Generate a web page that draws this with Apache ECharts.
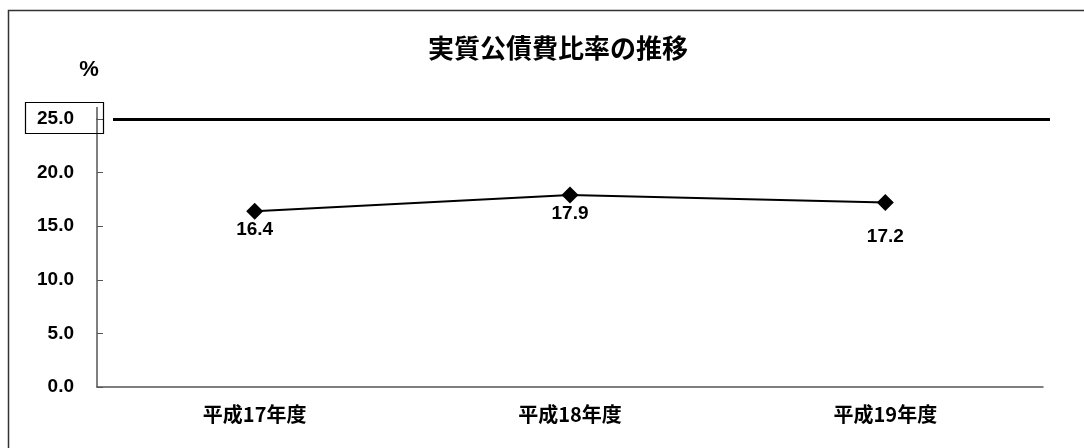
<!DOCTYPE html>
<html><head><meta charset="utf-8">
<script src="https://cdn.jsdelivr.net/npm/echarts@6/dist/echarts.min.js"></script>
<style>html,body{margin:0;padding:0;background:#fff}#c{width:1084px;height:448px}</style>
</head><body><div id="c"></div>
<script>
const categories = ['平成17年度', '平成18年度', '平成19年度'];
const ratioValues = [16.4, 17.9, 17.2];
const thresholdValue = 25;
const yTicks = [0, 5, 10, 15, 20, 25];

const FONT = '"Liberation Sans", "Noto Sans CJK JP", sans-serif';
const chart = echarts.init(document.getElementById('c'), null, {renderer: 'canvas'});
chart.setOption({
  backgroundColor: '#fff',
  animation: false,
  title: {
    text: '実質公債費比率の推移', left: 553, top: 30, textAlign: 'center',
    textStyle: {fontFamily: '"Noto Sans CJK JP", sans-serif', fontWeight: 'bold', fontSize: 26, color: '#000'}
  },
  grid: {left: 97, right: 41, top: 119, bottom: 61},
  xAxis: {
    type: 'category', data: categories, boundaryGap: true,
    axisLine: {lineStyle: {color: '#555', width: 1.5}},
    axisTick: {inside: true, length: 6, lineStyle: {color: '#555'}},
    axisLabel: {margin: 17, color: '#000', fontSize: 20, fontWeight: 'bold', fontFamily: '"Noto Sans CJK JP", sans-serif'}
  },
  yAxis: {
    type: 'value', min: yTicks[0], max: yTicks[yTicks.length - 1], interval: 5,
    name: '%', nameLocation: 'end', nameGap: 38,
    nameTextStyle: {color: '#000', fontSize: 22, fontWeight: 'bold', fontFamily: FONT, align: 'center', padding: [0, 16, 0, 0]},
    axisLine: {show: true, lineStyle: {color: '#555', width: 1.5}},
    axisTick: {show: true, inside: true, length: 6, lineStyle: {color: '#555'}},
    splitLine: {show: false},
    axisLabel: {margin: 23, color: '#000', fontSize: 19, fontWeight: 'bold', fontFamily: FONT,
      formatter: v => v.toFixed(1)}
  },
  series: [{
    type: 'line', data: ratioValues.map((v, i) => i === 2 ? {value: v, label: {distance: 16}} : v),
    symbol: 'diamond', symbolSize: 17,
    itemStyle: {color: '#000'}, lineStyle: {color: '#000', width: 2},
    label: {show: true, position: 'bottom', distance: 1, color: '#000', fontSize: 19, fontWeight: 'bold', fontFamily: FONT,
      formatter: p => p.value.toFixed(1)},
    markLine: {
      silent: true, symbol: 'none', label: {show: false},
      lineStyle: {color: '#000', width: 3, type: 'solid'},
      data: [[{x: 113, yAxis: thresholdValue}, {x: 1050, yAxis: thresholdValue}]]
    }
  }],
  graphic: [
    {type: 'rect', shape: {x: 8.5, y: 10.5, width: 1200, height: 600}, style: {fill: null, stroke: '#333', lineWidth: 1.5}, z: 100},
    {type: 'rect', shape: {x: 25.5, y: 102.5, width: 78, height: 31}, style: {fill: null, stroke: '#000', lineWidth: 1.2}, z: 100},
    {type: 'line', shape: {x1: 97, y1: 107, x2: 97, y2: 120}, style: {stroke: '#555', lineWidth: 1.5}, z: 100}
  ]
});
</script></body></html>
